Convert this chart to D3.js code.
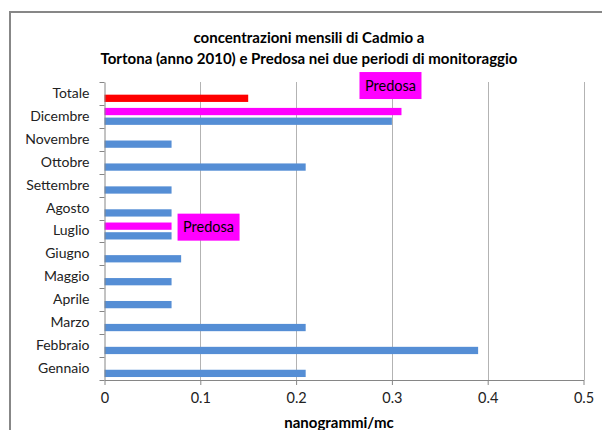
<!DOCTYPE html>
<html>
<head>
<meta charset="utf-8">
<script src="https://cdn.jsdelivr.net/npm/d3@7"></script>
<style>
  html, body { margin: 0; padding: 0; background: #fff; }
  svg { display: block; }
  text { font-family: Lato, "Open Sans", sans-serif; }
</style>
</head>
<body>
<svg id="chart" width="602" height="430"></svg>
<script>
// ---- data ----
const months = ["Gennaio","Febbraio","Marzo","Aprile","Maggio","Giugno","Luglio","Agosto","Settembre","Ottobre","Novembre","Dicembre"];
const categories = months.concat(["Totale"]);
const tortona = [0.21, 0.39, 0.21, 0.07, 0.07, 0.08, 0.07, 0.07, 0.07, 0.21, 0.07, 0.30];
const predosa = [null, null, null, null, null, null, 0.07, null, null, null, null, 0.31];
const totaleValue = [0.15];
const xTickValues = [0, 0.1, 0.2, 0.3, 0.4, 0.5];
const xTickLabels = ["0", "0.1", "0.2", "0.3", "0.4", "0.5"];
const titleLines = ["concentrazioni mensili di Cadmio a", "Tortona (anno 2010) e Predosa nei due periodi di monitoraggio"];
const xAxisTitle = "nanogrammi/mc";
const pointLabel = "Predosa";

// ---- layout ----
const svg = d3.select("#chart");
const plot = { left: 104.5, right: 583.5, top: 82, bottom: 380 };

svg.append("rect").attr("x", 0).attr("y", 0).attr("width", 602).attr("height", 430).attr("fill", "#fff");
// chart border
svg.append("rect").attr("x", 10).attr("y", 12).attr("width", 700).attr("height", 500)
  .attr("fill", "none").attr("stroke", "#878787").attr("stroke-width", 2);

const x = d3.scaleLinear().domain([0, 0.5]).range([plot.left, plot.right]);
const y = d3.scaleBand().domain(categories.slice().reverse()).range([plot.top, plot.bottom])
  .paddingInner(0.26).paddingOuter(0.13);
const sub = d3.scaleBand().domain(["predosa", "tortona"]).range([0, y.bandwidth()]).paddingInner(0.25);

// gridlines
svg.append("g").selectAll("line").data(xTickValues.slice(1)).join("line")
  .attr("x1", d => Math.round(x(d)) + 0.5).attr("x2", d => Math.round(x(d)) + 0.5)
  .attr("y1", plot.top).attr("y2", plot.bottom)
  .attr("stroke", "#b3b3b3").attr("stroke-width", 1);

// bars: Tortona
const tData = months.map((m, i) => ({ cat: m, v: tortona[i] }));
svg.append("g").selectAll("rect").data(tData).join("rect")
  .attr("x", x(0)).attr("y", d => y(d.cat) + sub("tortona"))
  .attr("width", d => x(d.v) - x(0)).attr("height", sub.bandwidth())
  .attr("fill", "#558ed5");

// bars: Totale
svg.append("g").selectAll("rect").data(totaleValue).join("rect")
  .attr("x", x(0)).attr("y", y("Totale") + sub("tortona"))
  .attr("width", d => x(d) - x(0)).attr("height", sub.bandwidth())
  .attr("fill", "#ff0000");

// bars: Predosa
const pData = months.map((m, i) => ({ cat: m, v: predosa[i] })).filter(d => d.v != null);
svg.append("g").selectAll("rect").data(pData).join("rect")
  .attr("x", x(0)).attr("y", d => y(d.cat) + sub("predosa"))
  .attr("width", d => x(d.v) - x(0)).attr("height", sub.bandwidth())
  .attr("fill", "#ff00ff");

// axes
const xAxis = d3.axisBottom(x).tickValues(xTickValues).tickFormat((d, i) => xTickLabels[i])
  .tickSize(5).tickSizeOuter(0).tickPadding(8);
const gx = svg.append("g").attr("transform", `translate(0,${plot.bottom})`).call(xAxis);
gx.select(".domain").attr("stroke", "#868686");
gx.selectAll(".tick line").attr("stroke", "#868686");
gx.selectAll("text").attr("fill", "#222").attr("font-size", "14.5px");

const yAxis = d3.axisLeft(y).tickSize(0).tickPadding(15);
const gy = svg.append("g").attr("transform", `translate(${plot.left},0)`).call(yAxis);
gy.select(".domain").attr("stroke", "#868686");
gy.selectAll("text").attr("fill", "#222").attr("font-size", "14px");
// category boundary ticks
const boundaries = categories.slice().reverse().map(c => y(c) - y.step() * y.paddingInner() / 2).concat([plot.bottom]);
svg.append("g").selectAll("line").data(boundaries).join("line")
  .attr("x1", plot.left - 5).attr("x2", plot.left)
  .attr("y1", d => Math.round(d) + 0.5).attr("y2", d => Math.round(d) + 0.5)
  .attr("stroke", "#868686");

// title
svg.append("text").attr("x", 309).attr("y", 43).attr("text-anchor", "middle")
  .attr("font-weight", "bold").attr("font-size", "15px").attr("fill", "#000")
  .attr("textLength", 231).attr("lengthAdjust", "spacingAndGlyphs").text(titleLines[0]);
svg.append("text").attr("x", 309).attr("y", 64).attr("text-anchor", "middle")
  .attr("font-weight", "bold").attr("font-size", "15px").attr("fill", "#000")
  .attr("textLength", 417).attr("lengthAdjust", "spacingAndGlyphs").text(titleLines[1]);

// axis title
svg.append("text").attr("x", 339).attr("y", 428).attr("text-anchor", "middle")
  .attr("font-weight", "bold").attr("font-size", "15px").attr("fill", "#000").text(xAxisTitle);

// data labels for Predosa
function addLabel(cx, cy) {
  const w = 62, h = 27;
  svg.append("rect").attr("x", cx - w / 2).attr("y", cy - h / 2).attr("width", w).attr("height", h).attr("fill", "#ff00ff");
  svg.append("text").attr("x", cx).attr("y", cy + 5).attr("text-anchor", "middle")
    .attr("font-size", "14.5px").attr("fill", "#000").text(pointLabel);
}
const dic = pData.find(d => d.cat === "Dicembre");
addLabel(x(dic.v) - 11, y("Dicembre") + sub("predosa") + sub.bandwidth() / 2 - 26);
const lug = pData.find(d => d.cat === "Luglio");
addLabel(x(lug.v) + 6 + 31, y("Luglio") + sub("predosa") + sub.bandwidth() / 2 + 1);
</script>
</body>
</html>
